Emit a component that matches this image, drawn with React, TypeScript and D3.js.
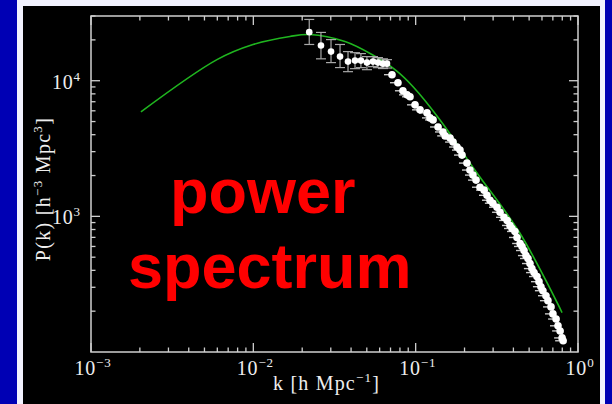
import React from 'react';
import * as d3 from 'd3';

// theory curve (green)
const curveK = [0.00203, 0.00597, 0.00995, 0.0168, 0.0223, 0.0367, 0.0538, 0.0746, 0.0964, 0.1413, 0.232, 0.44, 0.798];
const curveP = [5890, 14300, 18480, 21200, 21900, 19440, 15590, 12060, 9030, 5140, 2190, 748, 195];

// low-k measurements with vertical error bars
const errK = [0.0221, 0.0261, 0.0301, 0.0342, 0.0383, 0.0423, 0.046, 0.0501, 0.0546, 0.0586, 0.0629, 0.0666];
const errP = [22800, 18200, 16400, 15060, 13830, 14070, 14070, 13600, 13830, 13600, 13360, 13360];
const errHi = [28300, 22700, 20100, 18500, 16400, 16100, 15850, 15060, 15060, 14800, 14500, 14300];
const errLo = [18500, 14500, 13600, 12500, 11660, 12270, 12480, 12060, 12700, 12480, 12300, 12400];

// high-k measurements (dense band)
const bandK = [0.0715, 0.0778, 0.0835, 0.0885, 0.0923, 0.0991, 0.1064, 0.1175, 0.1225, 0.128, 0.1374, 0.1473, 0.152,
  0.1629, 0.17, 0.1799, 0.1875, 0.193, 0.207, 0.216, 0.2254, 0.2355, 0.249, 0.264, 0.275, 0.287, 0.299, 0.317,
  0.331, 0.35, 0.366, 0.381, 0.392, 0.409, 0.421, 0.44, 0.452, 0.465, 0.478, 0.492, 0.506, 0.52, 0.536, 0.559,
  0.575, 0.591, 0.608, 0.635, 0.653, 0.682, 0.701, 0.733, 0.753, 0.776, 0.798, 0.81];
const bandP = [11080, 9665, 8430, 7870, 7610, 6640, 6100, 5790, 5320, 5140, 4560, 4190, 3920,
  3780, 3530, 3245, 3080, 2830, 2470, 2195, 2015, 1850, 1640, 1560, 1430, 1315, 1250, 1167,
  1072, 984, 933, 857, 814, 774, 699, 631, 600, 560, 514, 489, 449, 412, 385, 360,
  330, 303, 283, 260, 239, 215, 191, 175, 156, 143, 127, 121];

const xTicks = [1e-3, 1e-2, 1e-1, 1e0];
const xExp = ['\u22123', '\u22122', '\u22121', '0'];
const yTicks = [1e3, 1e4];
const yExp = ['3', '4'];

const W = 612, H = 404;
const L = 91, R = 578, T = 16, B = 352;
const axisCol = '#cfcfcf';
const serif = '"Liberation Serif", "DejaVu Serif", serif';

export default function App() {
  const x = d3.scaleLog().domain([1e-3, 1]).range([L, R]);
  const y = d3.scaleLog().domain([100, 30000]).range([B, T]);

  const xMinor: number[] = [];
  [1e-3, 1e-2, 1e-1].forEach(d => { for (let i = 2; i <= 9; i++) xMinor.push(d * i); });
  const yMinor: number[] = [];
  [1e2, 1e3, 1e4].forEach(d => { for (let i = 2; i <= 9; i++) if (d * i <= 30000) yMinor.push(d * i); });

  const line = d3.line<number>().x((d, i) => x(curveK[i])).y(d => y(d)).curve(d3.curveCatmullRom.alpha(0.5));

  return (
    <svg width={W} height={H} style={{ position: 'absolute', left: 0, top: 0 }}>
      <rect x={0} y={0} width={W} height={H} fill="#0000b4" />
      <rect x={17} y={0} width={588} height={H} fill="#f2f2ff" />
      <rect x={23} y={6} width={577} height={H - 6} fill="#000" />

      {/* frame */}
      <rect x={L} y={T} width={R - L} height={B - T} fill="none" stroke={axisCol} strokeWidth={1.5} />

      {/* x ticks */}
      {xTicks.map(t => (
        <g key={'xt' + t}>
          <line x1={x(t)} x2={x(t)} y1={B} y2={B - 9} stroke={axisCol} strokeWidth={1.3} />
          <line x1={x(t)} x2={x(t)} y1={T} y2={T + 9} stroke={axisCol} strokeWidth={1.3} />
        </g>
      ))}
      {xMinor.map(t => (
        <g key={'xm' + t}>
          <line x1={x(t)} x2={x(t)} y1={B} y2={B - 4.5} stroke={axisCol} strokeWidth={1.3} />
          <line x1={x(t)} x2={x(t)} y1={T} y2={T + 4.5} stroke={axisCol} strokeWidth={1.3} />
        </g>
      ))}
      {/* y ticks */}
      {yTicks.map(t => (
        <g key={'yt' + t}>
          <line x1={L} x2={L + 9} y1={y(t)} y2={y(t)} stroke={axisCol} strokeWidth={1.3} />
          <line x1={R} x2={R - 9} y1={y(t)} y2={y(t)} stroke={axisCol} strokeWidth={1.3} />
        </g>
      ))}
      {yMinor.map(t => (
        <g key={'ym' + t}>
          <line x1={L} x2={L + 4.5} y1={y(t)} y2={y(t)} stroke={axisCol} strokeWidth={1.3} />
          <line x1={R} x2={R - 4.5} y1={y(t)} y2={y(t)} stroke={axisCol} strokeWidth={1.3} />
        </g>
      ))}

      {/* tick labels */}
      {xTicks.map((t, i) => (
        <text key={'xl' + t} x={x(t) + 2} y={375} fill="#eee" fontFamily={serif} fontSize={20} letterSpacing={0.8} textAnchor="middle">
          10<tspan fontSize={13} dy={-8}>{xExp[i]}</tspan>
        </text>
      ))}
      {yTicks.map((t, i) => (
        <text key={'yl' + t} x={52} y={y(t) + 8} fill="#eee" fontFamily={serif} fontSize={20} letterSpacing={0.8}>
          10<tspan fontSize={13} dy={-8}>{yExp[i]}</tspan>
        </text>
      ))}

      {/* axis titles */}
      <text x={273} y={390} fill="#eee" fontFamily={serif} fontSize={20} letterSpacing={1.2}>
        k [h Mpc<tspan fontSize={13} dy={-8}>{'\u22121'}</tspan><tspan dy={8}>]</tspan>
      </text>
      <text transform="translate(50,189) rotate(-90)" fill="#eee" fontFamily={serif} fontSize={20} letterSpacing={1.3} textAnchor="middle">
        P(k) [h<tspan fontSize={13} dy={-8}>{'\u22123'}</tspan><tspan dy={8}> Mpc</tspan><tspan fontSize={13} dy={-8}>3</tspan><tspan dy={8}>]</tspan>
      </text>

      {/* theory curve */}
      <path d={line(curveP) || ''} fill="none" stroke="#1fb51f" strokeWidth={1.6} />

      {/* error bars */}
      {errK.map((k, i) => (
        <g key={'e' + i} stroke="#a8a8a8" strokeWidth={1.2}>
          <line x1={x(k)} x2={x(k)} y1={y(errHi[i])} y2={y(errLo[i])} />
          <line x1={x(k) - 5} x2={x(k) + 5} y1={y(errHi[i])} y2={y(errHi[i])} />
          <line x1={x(k) - 5} x2={x(k) + 5} y1={y(errLo[i])} y2={y(errLo[i])} />
        </g>
      ))}
      {bandK.map((k, i) => (
        <line key={'h' + i} x1={x(k) - 8} x2={x(k) + 3} y1={y(bandP[i])} y2={y(bandP[i])} stroke="#c8c8c8" strokeWidth={1.4} />
      ))}
      {errK.map((k, i) => (
        <circle key={'c' + i} cx={x(k)} cy={y(errP[i])} r={3.3} fill="#fff" />
      ))}
      {bandK.map((k, i) => (
        <circle key={'b' + i} cx={x(k)} cy={y(bandP[i])} r={3.8} fill="#fff" />
      ))}

      {/* overlay label */}
      <text x={170} y={213} fill="#ff0000" fontFamily='"Liberation Sans", Arial, sans-serif' fontWeight="bold" fontSize={63}>power</text>
      <text x={128} y={288} fill="#ff0000" fontFamily='"Liberation Sans", Arial, sans-serif' fontWeight="bold" fontSize={63}>spectrum</text>
    </svg>
  );
}
